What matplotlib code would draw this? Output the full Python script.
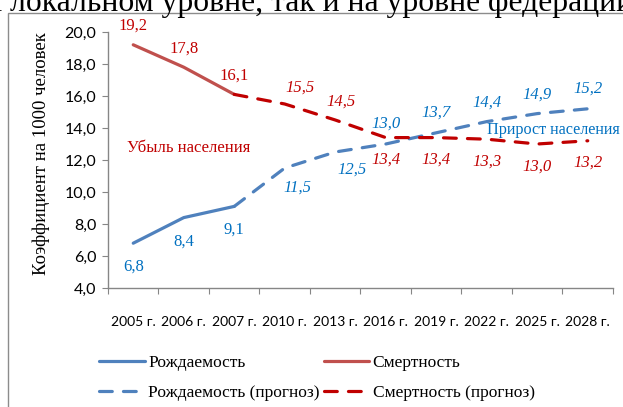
import matplotlib
matplotlib.use("Agg")
import matplotlib.pyplot as plt
from matplotlib.patches import Rectangle

# data
years = ["2005 г.", "2006 г.", "2007 г.", "2010 г.", "2013 г.", "2016 г.",
         "2019 г.", "2022 г.", "2025 г.", "2028 г."]
birth = [6.8, 8.4, 9.1]
death = [19.2, 17.8, 16.1]
birth_fc = [9.1, 11.5, 12.5, 13.0, 13.7, 14.4, 14.9, 15.2]
death_fc = [16.1, 15.5, 14.5, 13.4, 13.4, 13.3, 13.0, 13.2]

serif = "Liberation Serif"
sans = "Lato"
W, H = 623, 407

fig = plt.figure(figsize=(W / 100, H / 100), dpi=100)
ax = fig.add_axes([108 / W, 1 - 288 / H, (613 - 108) / W, (288 - 32) / H])

x_act = list(range(len(birth)))
x_fc = list(range(len(birth) - 1, len(years)))

lw = 2.3
l1, = ax.plot(x_act, birth, color="#4F81BD", lw=lw, solid_capstyle="round", label="Рождаемость")
l2, = ax.plot(x_act, death, color="#C0504D", lw=lw, solid_capstyle="round", label="Смертность")
l3, = ax.plot(x_fc, birth_fc, color="#4F81BD", lw=lw, dashes=(4, 3.5), dash_capstyle="round",
              label="Рождаемость (прогноз)")
l4, = ax.plot(x_fc, death_fc, color="#C00000", lw=lw, dashes=(4, 3.5), dash_capstyle="round",
              label="Смертность (прогноз)")

blue_txt = "#0070C0"
red_txt = "#C00000"
fs_lab = 12

# data labels: actual values upright, forecast italic
for i, v in zip(x_act, birth):
    ax.annotate(("%.1f" % v).replace(".", ","), (i, v), xytext=(0, -17), textcoords="offset points",
                ha="center", va="center", color=blue_txt, fontsize=fs_lab, family=serif)
for i, v in zip(x_act, death):
    ax.annotate(("%.1f" % v).replace(".", ","), (i, v), xytext=(0, 13.5), textcoords="offset points",
                ha="center", va="center", color=red_txt, fontsize=fs_lab, family=serif)

b_off = [None, (9, -14), (12, -13), (0, 14.5), (0, 14.5), (0, 14), (0, 14), (0, 14.5)]
d_off = [None, (11, 12), (4, 13), (0, -16), (0, -16), (0, -16), (0, -16), (0, -16)]
for k in range(1, len(x_fc)):
    i = x_fc[k]
    ax.annotate(("%.1f" % birth_fc[k]).replace(".", ","), (i, birth_fc[k]), xytext=b_off[k],
                textcoords="offset points", ha="center", va="center", color=blue_txt,
                fontsize=fs_lab, family=serif, style="italic")
    ax.annotate(("%.1f" % death_fc[k]).replace(".", ","), (i, death_fc[k]), xytext=d_off[k],
                textcoords="offset points", ha="center", va="center", color=red_txt,
                fontsize=fs_lab, family=serif, style="italic")

ax.text(1.09, 12.75, "Убыль населения", color=red_txt, fontsize=12, family=serif,
        ha="center", va="center")
ax.text(7.01, 13.9, "Прирост населения", color=blue_txt, fontsize=11.6, family=serif,
        ha="left", va="center", clip_on=False)

ax.set_xlim(-0.5, len(years) - 0.5)
ax.set_ylim(4, 20)
ax.set_yticks([4, 6, 8, 10, 12, 14, 16, 18, 20])
ax.set_yticklabels([("%.1f" % t).replace(".", ",") for t in ax.get_yticks()],
                   family=sans, fontsize=11.5)
ax.set_xticks([i - 0.5 for i in range(len(years) + 1)])
ax.set_xticklabels([])
ax.set_xticks(range(len(years)), minor=True)
ax.set_xticklabels(years, minor=True, family=sans, fontsize=10)
ax.tick_params(axis="x", which="major", direction="out", length=4.5, color="#868686")
ax.tick_params(axis="x", which="minor", length=0, pad=20)
ax.tick_params(axis="y", direction="out", length=4.5, color="#868686", pad=4)

for s in ["top", "right"]:
    ax.spines[s].set_visible(False)
for s in ["left", "bottom"]:
    ax.spines[s].set_color("#868686")
    ax.spines[s].set_linewidth(1)

fig.text(41 / W, 1 - 154 / H, "Коэффициент на 1000 человек", rotation=90, ha="center",
         va="center", family=serif, fontsize=13.5)

fig.legend(handles=[l1, l3, l2, l4], loc="center", bbox_to_anchor=(317 / W, 1 - 378 / H),
           ncol=2, frameon=False, handlelength=2.6, handletextpad=0.2, columnspacing=0.25,
           labelspacing=0.78, borderpad=0, prop={"family": serif, "size": 12.5})

# chart frame and the document line above it
fig.patches.append(Rectangle((8 / W, -0.1), 1.2, 1.1 - 13 / H, transform=fig.transFigure,
                             fill=False, edgecolor="#8C8C8C", lw=1))
fig.text(-12 / W, 1 - 11 / H, "а локальном уровне, так и на уровне федерации", ha="left",
         va="baseline", family=serif, fontsize=22.8, color="black")

plt.savefig("out.png", dpi=100)
plt.close()
